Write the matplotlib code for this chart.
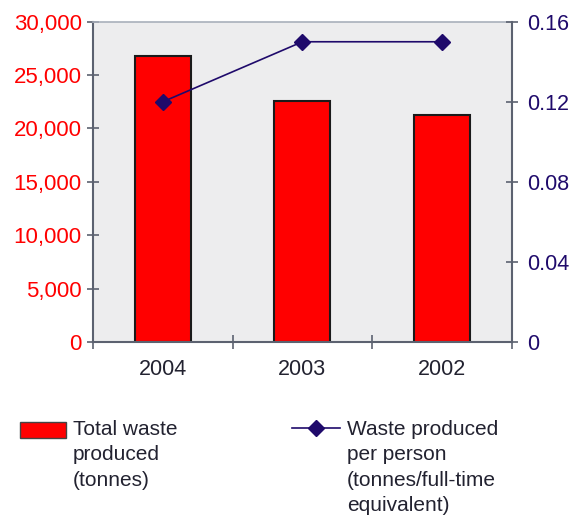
import numpy as np
import matplotlib
matplotlib.use("Agg")
import matplotlib.pyplot as plt
from matplotlib.patches import Patch
from matplotlib.lines import Line2D

# data
years = ["2004", "2003", "2002"]
total_waste = [26800, 22600, 21300]
waste_per_person = [0.12, 0.15, 0.15]
left_ticks = [0, 5000, 10000, 15000, 20000, 25000, 30000]
right_ticks = [0, 0.04, 0.08, 0.12, 0.16]
bar_label = "Total waste\nproduced\n(tonnes)"
line_label = "Waste produced\nper person\n(tonnes/full-time\nequivalent)"

red = "#ff0000"
navy = "#1f0a6b"
dark = "#222230"
spine = "#5c6270"

plt.rcParams["font.family"] = ["Liberation Sans", "DejaVu Sans"]

fig = plt.figure(figsize=(5.81, 5.18), dpi=100)
ax = fig.add_axes([0.160, 0.340, 0.721, 0.618])
ax.set_facecolor("#ededee")

x = np.arange(len(years))
ax.bar(x, total_waste, width=0.4, color=red, edgecolor="#1a1a1a", linewidth=1.5, zorder=2)
ax.set_xlim(-0.5, 2.5)
ax.set_ylim(0, 30000)
ax.set_yticks(left_ticks)
ax.set_yticklabels([f"{v:,}" for v in left_ticks])
ax.tick_params(axis="y", colors=spine, labelcolor=red, labelsize=16, direction="inout", length=8, width=1.2, pad=4)

ax.set_xticks(np.arange(-0.5, 3.0, 1.0))
ax.set_xticklabels([])
ax.set_xticks(x, minor=True)
ax.set_xticklabels(years, minor=True)
ax.tick_params(axis="x", which="major", colors=spine, direction="inout", length=10, width=1.2)
ax.tick_params(axis="x", which="minor", length=0, labelsize=15.5, labelcolor=dark, pad=12)

for s in ["left", "bottom"]:
    ax.spines[s].set_color(spine)
    ax.spines[s].set_linewidth(1.5)
ax.spines["top"].set_color("#a9b0bb")
ax.spines["top"].set_linewidth(1.2)
ax.spines["right"].set_visible(False)

ax2 = ax.twinx()
ax2.plot(x, waste_per_person, color=navy, lw=1.2, marker="D", ms=8, zorder=3)
ax2.set_ylim(0, 0.16)
ax2.set_yticks(right_ticks)
ax2.set_yticklabels(["0", "0.04", "0.08", "0.12", "0.16"])
ax2.tick_params(axis="y", colors=spine, labelcolor=navy, labelsize=15.5, direction="inout", length=8, width=1.2, pad=7)
for s in ["left", "top", "bottom"]:
    ax2.spines[s].set_visible(False)
ax2.spines["right"].set_color(spine)
ax2.spines["right"].set_linewidth(1.5)

# legend keys (handles only) plus wrapped labels set beside them
h1 = Patch(facecolor=red, edgecolor="#444444", linewidth=1)
h2 = Line2D([], [], color=navy, lw=1.2, marker="D", ms=8)
leg1 = fig.legend([h1], [""], loc="upper left", bbox_to_anchor=(20 / 581, 1 - 422 / 518),
                  frameon=False, fontsize=15, handlelength=2.2, handleheight=0.77,
                  handletextpad=0, borderaxespad=0, borderpad=0)
leg2 = fig.legend([h2], [""], loc="upper left", bbox_to_anchor=(292 / 581, 1 - 420 / 518),
                  frameon=False, fontsize=15, handlelength=2.3, handleheight=0.9,
                  handletextpad=0, borderaxespad=0, borderpad=0)
fig.text(73 / 581, 1 - 420 / 518, bar_label, ha="left", va="top", fontsize=15,
         color=dark, linespacing=1.42)
fig.text(347 / 581, 1 - 420 / 518, line_label, ha="left", va="top", fontsize=15,
         color=dark, linespacing=1.42)

fig.savefig("out.png", dpi=100)
